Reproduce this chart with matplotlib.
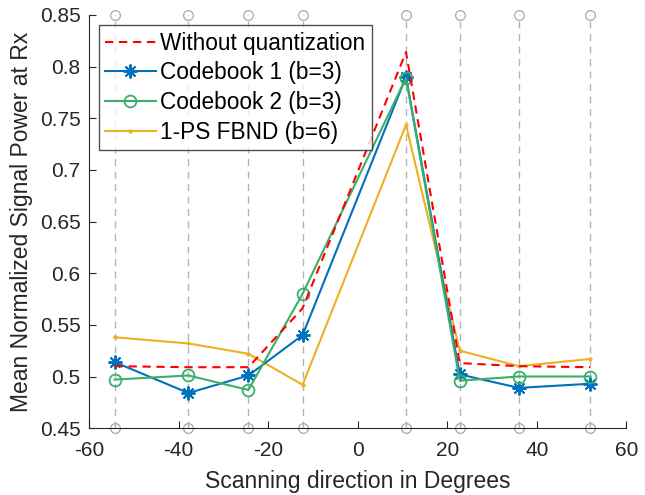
import matplotlib
matplotlib.use("Agg")
import matplotlib.pyplot as plt

plt.rcParams['font.family'] = ['Liberation Sans', 'DejaVu Sans']
plt.rcParams['axes.unicode_minus'] = False

# scanning directions (degrees)
angles = [-54.3, -37.8, -24.4, -12.3, 10.8, 22.8, 36.0, 52.0]

no_quant = [0.510, 0.509, 0.509, 0.566, 0.814, 0.513, 0.510, 0.509]
codebook1 = [0.514, 0.484, 0.501, 0.540, 0.790, 0.502, 0.489, 0.493]
codebook2 = [0.497, 0.501, 0.487, 0.580, 0.789, 0.496, 0.500, 0.500]
fbnd = [0.538, 0.532, 0.522, 0.492, 0.7435, 0.525, 0.510, 0.517]

y_lo, y_hi = 0.45, 0.85

fig = plt.figure(figsize=(6.45, 4.95), dpi=100)
ax = fig.add_axes([0.138, 0.135, 0.833, 0.835])

# vertical guide lines at the scanning directions
for a in angles:
    ax.plot([a, a], [y_lo, y_hi], ls=(0, (5, 4)), color='#b4b4b4', lw=1.0,
            marker='o', ms=7, mfc='none', mec='#a8a8a8', mew=0.9, zorder=1,
            clip_on=False)

ax.plot(angles, no_quant, ls=(0, (4, 2.7)), color='red', lw=1.5,
        label='Without quantization', zorder=4)
ax.plot(angles, codebook1, '-', marker=(8, 2, 0), color='#0072BD', lw=1.5,
        ms=10, mew=1.4, label='Codebook 1 (b=3)', zorder=3)
ax.plot(angles, codebook2, '-o', color='#3BAF6A', lw=1.5, ms=8.5, mfc='none',
        mew=1.3, label='Codebook 2 (b=3)', zorder=3)
ax.plot(angles, fbnd, '-', marker='.', color='#EDB120', lw=1.5, ms=4,
        label='1-PS FBND (b=6)', zorder=2)

ax.set_xlim(-60, 60)
ax.set_ylim(y_lo, y_hi)
ax.set_xticks(range(-60, 61, 20))
ax.set_yticks([0.45, 0.5, 0.55, 0.6, 0.65, 0.7, 0.75, 0.8, 0.85])
ax.set_yticklabels(['0.45', '0.5', '0.55', '0.6', '0.65', '0.7', '0.75', '0.8', '0.85'])
ax.tick_params(direction='in', labelsize=15, colors='#262626', length=5)
ax.tick_params(axis='x', pad=9)
ax.tick_params(axis='y', pad=6)
ax.spines['top'].set_visible(False)
ax.spines['right'].set_visible(False)
for s in ['left', 'bottom']:
    ax.spines[s].set_color('#262626')

ax.set_xlabel('Scanning direction in Degrees', fontsize=16.5, color='#262626')
ax.set_ylabel('Mean Normalized Signal Power at Rx', fontsize=16.5, color='#262626')
ax.xaxis.set_label_coords(0.5, -0.10)
ax.yaxis.set_label_coords(-0.105, 0.5)

leg = ax.legend(loc='upper left', bbox_to_anchor=(0.018, 0.975), fontsize=16.3,
                frameon=True, fancybox=False, edgecolor='#262626',
                handlelength=2.25, borderpad=0.28, labelspacing=0.3,
                handletextpad=0.2, borderaxespad=0)
leg.get_frame().set_linewidth(1.0)

fig.savefig('out.png', dpi=100)
